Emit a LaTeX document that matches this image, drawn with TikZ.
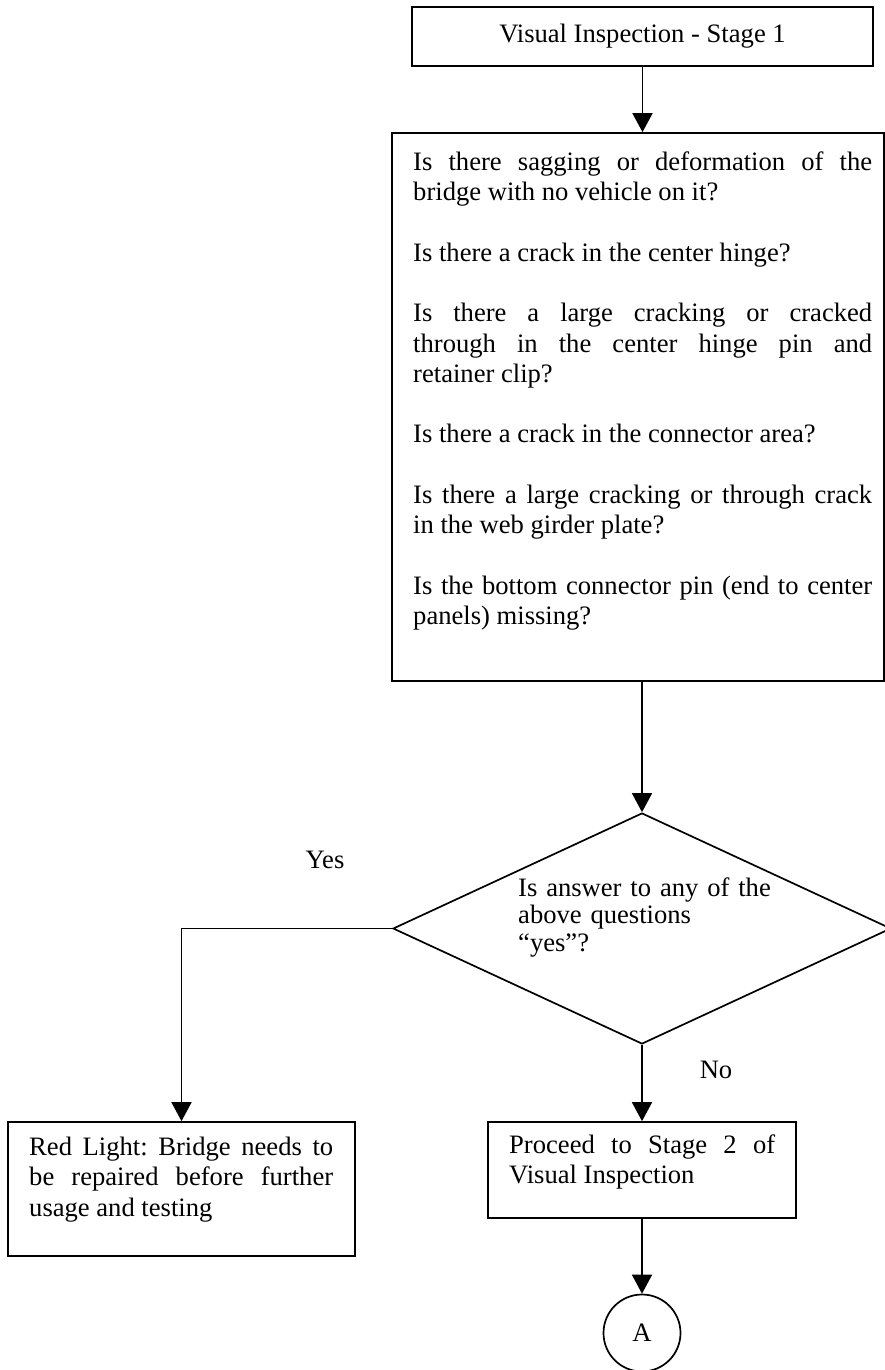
\documentclass[tikz,border=0pt]{standalone}
\usepackage{fontspec}
\setmainfont{Liberation Serif}
\usetikzlibrary{arrows.meta,shapes.geometric}
\setlength{\parindent}{0pt}
\frenchspacing
\hyphenpenalty=10000
\exhyphenpenalty=10000
\tolerance=10000
\hbadness=10000

\begin{document}
\begin{tikzpicture}[x=1pt,y=-1pt,
  box/.style={draw, rectangle, inner sep=0pt, line width=1.7pt,
    font=\fontsize{26.6}{30}\selectfont},
  decision/.style={draw, diamond, inner sep=0pt, line width=1.7pt},
  connector/.style={draw, circle, inner sep=0pt, line width=1.7pt,
    font=\fontsize{26.6}{30}\selectfont},
  flow/.style={-{Triangle[width=20pt,length=19pt]}, line width=1.7pt},
  para/.style={anchor=north west, inner sep=0pt, align=justify,
    font=\fontsize{26.6}{#1}\selectfont},
  para/.default=30.3,
  lbl/.style={inner sep=0pt, anchor=base, font=\fontsize{26.6}{30}\selectfont}]

\fill[white] (0,0) rectangle (885,1370);
\useasboundingbox (0,0) rectangle (885,1370);

% boxes
\node[box, minimum width=461pt, minimum height=59pt] (top) at (642.5,36.5)
  {Visual Inspection - Stage 1};
\node[box, minimum width=492pt, minimum height=548pt] (big) at (638,407) {};
\node[para, text width=459pt] (bigtext) at (413,150) {%
\rule{0pt}{20pt}Is there sagging or deformation of the\linebreak
bridge with no vehicle on it?\par\vspace{\baselineskip}
Is there a crack in the center hinge?\par\vspace{\baselineskip}
Is there a large cracking or cracked\linebreak
through in the center hinge pin and\linebreak
retainer clip?\par\vspace{\baselineskip}
Is there a crack in the connector area?\par\vspace{\baselineskip}
Is there a large cracking or through crack\linebreak
in the web girder plate?\par\vspace{\baselineskip}
Is the bottom connector pin (end to center\linebreak
panels) missing?};

% decision
\node[decision, minimum width=498pt, minimum height=231pt] (dec) at (642,928.5) {};
\node[para=27.5, align=left, text width=280pt] (dectext) at (518,876) {%
\rule{0pt}{20pt}Is answer to any of the\\
above questions\\
“yes”?};

% outcomes
\node[box, minimum width=347pt, minimum height=134pt] (red) at (181.5,1189) {};
\node[para=30.5, text width=304pt] (redtext) at (29,1135) {%
\rule{0pt}{20pt}Red Light: Bridge needs to\linebreak
be repaired before further\linebreak
usage and testing};

\node[box, minimum width=308pt, minimum height=96pt] (proc) at (642,1170) {};
\node[para=30, text width=266pt] (proctext) at (509,1133) {%
\rule{0pt}{20pt}Proceed to Stage 2 of\linebreak
Visual Inspection};

\node[connector, minimum size=77pt] (A) at (642,1333) {A};

% branch labels
\node[lbl] (yes) at (325,868) {Yes};
\node[lbl] (no) at (716,1078) {No};

% connectors
\draw[flow] (top.south) -- (top.south |- big.north);
\draw[flow] (big.south -| dec.north) -- (dec.north);
\draw[flow] (dec.west) -| (red.north);
\draw[flow] (dec.south) -- (proc.north);
\draw[flow] (proc.south) -- (A.north);
\end{tikzpicture}
\end{document}
